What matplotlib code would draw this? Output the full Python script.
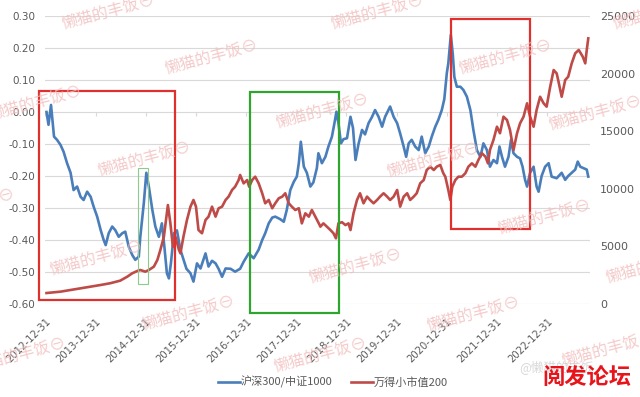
import matplotlib
matplotlib.use("Agg")
import matplotlib.pyplot as plt
from matplotlib.patches import Rectangle

plt.rcParams['font.family'] = ['DejaVu Sans', 'Noto Sans CJK SC']
CJK = ['Noto Sans CJK SC', 'DejaVu Sans']

# 沪深300/中证1000 ratio (left axis), time in fractional years
blue_t = [2013.02, 2013.06, 2013.11, 2013.17, 2013.23, 2013.30, 2013.36, 2013.43, 2013.50, 2013.56,
          2013.63, 2013.70, 2013.76, 2013.83, 2013.90, 2013.96, 2014.03, 2014.10, 2014.16, 2014.20,
          2014.26, 2014.33, 2014.39, 2014.46, 2014.53, 2014.59, 2014.66, 2014.73, 2014.79, 2014.86,
          2014.89, 2014.96, 2015.01, 2015.06, 2015.13, 2015.19, 2015.26, 2015.32, 2015.37, 2015.42,
          2015.46, 2015.50, 2015.56, 2015.62, 2015.69, 2015.75, 2015.81, 2015.89, 2015.95, 2016.02,
          2016.09, 2016.19, 2016.25, 2016.32, 2016.39, 2016.45, 2016.52, 2016.59, 2016.69, 2016.78,
          2016.88, 2016.95, 2017.05, 2017.15, 2017.25, 2017.32, 2017.38, 2017.45, 2017.52, 2017.58,
          2017.68, 2017.75, 2017.81, 2017.88, 2017.95, 2018.01, 2018.05, 2018.09, 2018.15, 2018.21,
          2018.28, 2018.34, 2018.41, 2018.44, 2018.51, 2018.58, 2018.64, 2018.71, 2018.76, 2018.80,
          2018.84, 2018.89, 2018.94, 2019.01, 2019.08, 2019.13, 2019.18, 2019.24, 2019.31, 2019.37,
          2019.44, 2019.51, 2019.57, 2019.64, 2019.71, 2019.77, 2019.87, 2019.94, 2020.01, 2020.07,
          2020.14, 2020.19, 2020.24, 2020.30, 2020.37, 2020.44, 2020.50, 2020.57, 2020.64, 2020.70,
          2020.77, 2020.83, 2020.90, 2020.95, 2021.00, 2021.03, 2021.08, 2021.12, 2021.15, 2021.20,
          2021.27, 2021.33, 2021.40, 2021.47, 2021.53, 2021.60, 2021.67, 2021.73, 2021.80, 2021.86,
          2021.93, 2022.00, 2022.05, 2022.10, 2022.16, 2022.23, 2022.28, 2022.33, 2022.40, 2022.46,
          2022.51, 2022.56, 2022.60, 2022.66, 2022.73, 2022.79, 2022.83, 2022.89, 2022.96, 2023.03,
          2023.09, 2023.19, 2023.29, 2023.36, 2023.42, 2023.49, 2023.56, 2023.61, 2023.66, 2023.72,
          2023.79, 2023.82]
blue_v = [0.000, -0.040, 0.022, -0.077, -0.087, -0.103, -0.124, -0.160, -0.190, -0.244,
          -0.233, -0.265, -0.275, -0.249, -0.265, -0.296, -0.327, -0.369, -0.400, -0.416,
          -0.379, -0.358, -0.369, -0.390, -0.379, -0.374, -0.421, -0.447, -0.462, -0.452,
          -0.390, -0.285, -0.190, -0.233, -0.306, -0.358, -0.390, -0.348, -0.421, -0.504,
          -0.520, -0.473, -0.379, -0.370, -0.431, -0.460, -0.490, -0.504, -0.530, -0.473,
          -0.489, -0.442, -0.483, -0.465, -0.473, -0.490, -0.515, -0.489, -0.490, -0.499,
          -0.490, -0.468, -0.442, -0.457, -0.430, -0.400, -0.379, -0.348, -0.330, -0.327,
          -0.335, -0.343, -0.306, -0.244, -0.218, -0.202, -0.160, -0.093, -0.171, -0.190,
          -0.233, -0.220, -0.175, -0.129, -0.160, -0.140, -0.108, -0.077, -0.035, 0.001,
          -0.035, -0.098, -0.085, -0.082, -0.015, -0.050, -0.150, -0.100, -0.056, -0.070,
          -0.035, -0.015, 0.006, -0.015, -0.046, -0.015, 0.017, -0.015, -0.035, -0.067,
          -0.108, -0.140, -0.098, -0.087, -0.108, -0.119, -0.077, -0.129, -0.108, -0.077,
          -0.046, -0.025, 0.006, 0.040, 0.121, 0.152, 0.241, 0.180, 0.110, 0.079,
          0.079, 0.069, 0.048, 0.006, -0.056, -0.119, -0.140, -0.098, -0.119, -0.171,
          -0.150, -0.160, -0.108, -0.140, -0.171, -0.140, -0.087, -0.129, -0.140, -0.145,
          -0.171, -0.212, -0.233, -0.190, -0.171, -0.233, -0.249, -0.200, -0.171, -0.160,
          -0.202, -0.207, -0.190, -0.212, -0.200, -0.190, -0.180, -0.155, -0.171, -0.175,
          -0.180, -0.202]

# 万得小市值200 index (right axis)
red_t = [2013.02, 2013.30, 2013.50, 2013.70, 2013.90, 2014.10, 2014.29, 2014.49, 2014.63, 2014.73,
         2014.83, 2014.89, 2014.99, 2015.06, 2015.16, 2015.23, 2015.29, 2015.36, 2015.41, 2015.44,
         2015.49, 2015.54, 2015.59, 2015.66, 2015.69, 2015.75, 2015.82, 2015.89, 2015.95, 2016.00,
         2016.05, 2016.12, 2016.19, 2016.25, 2016.32, 2016.39, 2016.45, 2016.52, 2016.59, 2016.65,
         2016.72, 2016.78, 2016.85, 2016.88, 2016.95, 2017.02, 2017.06, 2017.12, 2017.18, 2017.25,
         2017.32, 2017.38, 2017.45, 2017.52, 2017.58, 2017.65, 2017.72, 2017.78, 2017.85, 2017.91,
         2017.98, 2018.05, 2018.11, 2018.18, 2018.25, 2018.31, 2018.38, 2018.46, 2018.48, 2018.54,
         2018.61, 2018.68, 2018.74, 2018.79, 2018.84, 2018.91, 2018.98, 2019.04, 2019.08, 2019.14,
         2019.21, 2019.27, 2019.34, 2019.41, 2019.47, 2019.54, 2019.61, 2019.67, 2019.74, 2019.81,
         2019.87, 2019.94, 2020.01, 2020.07, 2020.14, 2020.21, 2020.27, 2020.34, 2020.40, 2020.47,
         2020.54, 2020.60, 2020.67, 2020.74, 2020.80, 2020.87, 2020.93, 2020.97, 2021.03, 2021.07,
         2021.11, 2021.17, 2021.23, 2021.30, 2021.37, 2021.43, 2021.50, 2021.57, 2021.63, 2021.70,
         2021.77, 2021.82, 2021.86, 2021.93, 2022.00, 2022.06, 2022.13, 2022.20, 2022.26, 2022.33,
         2022.40, 2022.46, 2022.53, 2022.60, 2022.66, 2022.73, 2022.79, 2022.86, 2022.93, 2022.99,
         2023.06, 2023.13, 2023.19, 2023.22, 2023.29, 2023.36, 2023.42, 2023.49, 2023.56, 2023.63,
         2023.71, 2023.76, 2023.79, 2023.82]
red_v = [950, 1070, 1215, 1360, 1500, 1650, 1800, 2025, 2370, 2665,
         2865, 2950, 2805, 2950, 3240, 3820, 4690, 5840, 7580, 8590,
         7000, 4970, 5840, 4690, 4400, 5840, 7290, 8450, 9030, 8450,
         6420, 6140, 7290, 7580, 8450, 7580, 8300, 8450, 9030, 9320,
         9900, 10180, 10760, 11200, 10470, 10760, 10180, 10760, 11050, 10470,
         9610, 8740, 9030, 8310, 8740, 9175, 9320, 9610, 8740, 8450,
         8160, 8310, 7000, 7870, 7580, 8160, 7580, 6900, 6710, 7000,
         6710, 6420, 6140, 5700, 7000, 7100, 6850, 7000, 6420, 7870,
         9030, 9610, 8740, 9320, 9030, 8740, 9030, 9320, 9610, 9320,
         9030, 9320, 9900, 8450, 9320, 9610, 9030, 9320, 9610, 10480,
         10760, 11630, 11920, 11630, 11920, 12070, 11350, 11050, 9900, 9030,
         10180, 10760, 11050, 11050, 11350, 11920, 12210, 11920, 12500, 13080,
         12790, 12210, 13370, 14240, 15390, 14820, 16260, 15970, 15100, 13370,
         14820, 15680, 16260, 17420, 16260, 15390, 16840, 17990, 17420, 17130,
         18840, 20310, 20020, 19440, 17990, 19440, 19730, 20890, 21760, 22050,
         21470, 20890, 22050, 23060]

years = list(range(2013, 2024))
year_labels = [f"{y - 1}-12-31" for y in years]
left_ticks = [0.30, 0.20, 0.10, 0.00, -0.10, -0.20, -0.30, -0.40, -0.50, -0.60]
right_ticks = [0, 5000, 10000, 15000, 20000, 25000]

# highlighted periods: (t0, t1, v_low, v_high, colour, width)
boxes = [
    (2012.88, 2015.59, -0.5875, 0.066, '#E0302E', 1.6),
    (2014.84, 2015.04, -0.538, -0.174, '#8CCB8C', 0.8),
    (2017.07, 2018.86, -0.628, 0.0625, '#2FA52F', 1.6),
    (2021.08, 2022.65, -0.366, 0.290, '#E0302E', 1.6),
]

BLUE = '#4A7EBB'
RED = '#BE4B48'
GRAY = '#595959'

fig = plt.figure(figsize=(6.4, 3.97), dpi=100)
ax1 = fig.add_axes([0.0703, 0.2343, 0.852, 0.7254])
ax2 = ax1.twinx()

ax1.plot(blue_t, blue_v, color=BLUE, lw=1.9, solid_joinstyle='round')
ax2.plot(red_t, red_v, color=RED, lw=1.9, solid_joinstyle='round')

ax1.set_xlim(2012.99, 2023.86)
ax1.set_ylim(-0.60, 0.30)
ax2.set_ylim(0, 25000)

ax1.set_yticks(left_ticks, [f"{v:.2f}" for v in left_ticks])
ax2.set_yticks(right_ticks, [str(v) for v in right_ticks])
ax1.set_xticks(years, year_labels)
ax1.grid(axis='y', color='#D9D9D9', lw=0.8)
ax1.set_axisbelow(True)

for ax in (ax1, ax2):
    for s in ax.spines.values():
        s.set_visible(False)
ax1.tick_params(axis='y', length=0, pad=7, labelsize=7.5, labelcolor=GRAY)
ax2.tick_params(axis='y', length=0, pad=7, labelsize=8, labelcolor=GRAY)
ax1.tick_params(axis='x', length=0, pad=9, labelsize=7.2, labelcolor=GRAY)
for lab in ax1.get_xticklabels():
    lab.set_rotation(45)
    lab.set_ha('right')
    lab.set_va('top')
    lab.set_rotation_mode('anchor')

# small category ticks on the zero line
sec = ax1.secondary_xaxis(0, transform=ax1.transData)
sec.set_xticks(years, [''] * len(years))
sec.tick_params(length=3, color='#D9D9D9', width=0.8)
for s in sec.spines.values():
    s.set_visible(False)

for t0, t1, lo, hi, col, w in boxes:
    ax2.add_patch(Rectangle((t0, lo), t1 - t0, hi - lo, transform=ax1.transData,
                            fill=False, edgecolor=col, lw=w, clip_on=False, zorder=5))

# legend
leg = fig.legend(handles=ax1.get_lines() + ax2.get_lines(),
                 labels=['沪深300/中证1000', '万得小市值200'],
                 loc='center', bbox_to_anchor=(0.52, 0.037), ncol=2, frameon=False,
                 prop={'family': CJK, 'size': 8}, handlelength=2.0, handletextpad=0.1,
                 columnspacing=1.6)
for t in leg.get_texts():
    t.set_color(GRAY)

# watermarks
wm = '懒猫的丰饭⊖'
wm_pos = [(0.33, 0.855), (0.79, 0.855), (0.055, 0.74), (0.225, 0.60), (0.503, 0.72),
          (0.59, 0.97), (0.93, 0.715), (0.677, 0.597), (0.15, 0.35), (0.294, 0.212),
          (0.555, 0.33), (0.85, 0.453), (0.74, 0.21), (0.50, 0.105), (0.03, 0.105),
          (1.02, 0.33), (0.17, 0.97), (1.03, 0.97), (-0.05, 0.48), (0.95, 0.12)]
for x, y in wm_pos:
    fig.text(x, y, wm, family=CJK, fontsize=11.5, color='#F2BDBD', alpha=0.8,
             rotation=15, ha='center', va='center', zorder=0)

fig.text(0.87, 0.075, '@懒猫的丰饭', family=CJK, fontsize=9, color='#C8C8C8',
         alpha=0.7, ha='center', va='center')
fig.text(0.917, 0.048, '阅发论坛', family=CJK, fontsize=16, color='#E8141B',
         ha='center', va='center', weight='bold')

fig.savefig('out.png', dpi=100)
